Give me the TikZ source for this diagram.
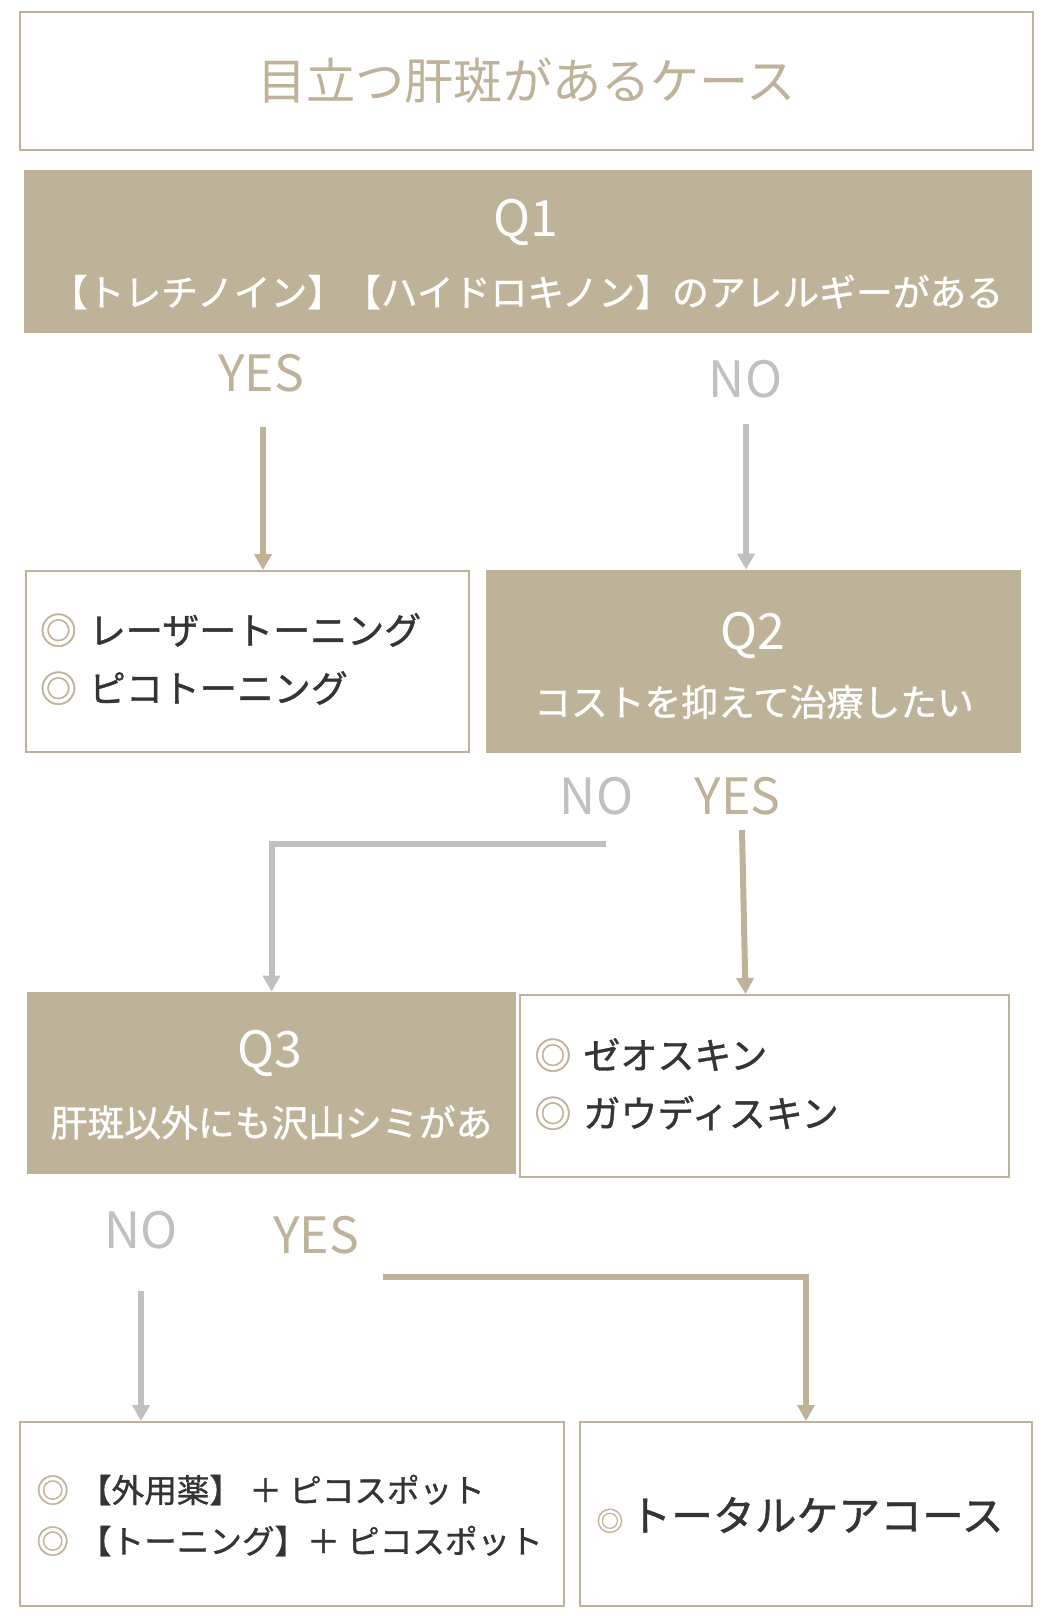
\documentclass[tikz,border=0pt]{standalone}
\usepackage{fontspec}
\setmainfont{Noto Sans CJK JP}
\newfontfamily\medjp{Noto Sans CJK JP}[FakeBold=1]
\usepackage{xcolor}
\usepackage{tikz}
\usetikzlibrary{arrows.meta}
\definecolor{sand}{RGB}{190,178,152}
\definecolor{ash}{RGB}{192,192,192}
\definecolor{ink}{RGB}{52,52,52}

\begin{document}
\begin{tikzpicture}[x=0.5pt, y=-0.5pt,
  qbox/.style={fill=sand, inner sep=0},
  abox/.style={draw=sand, line width=1pt, fill=white, inner sep=0},
  qlab/.style={text=white, font=\fontsize{25}{30}\selectfont},
  qtxt/.style={text=white, font=\medjp\fontsize{18.4}{22}\selectfont},
  item/.style={text=ink, anchor=west, inner sep=0, font=\medjp\fontsize{18.5}{22}\selectfont},
  yeslab/.style={text=sand, font=\fontsize{25}{30}\selectfont},
  nolab/.style={text=ash, font=\fontsize{25}{30}\selectfont},
  yesline/.style={draw=sand, line width=3pt, -{Triangle[width=8.5pt, length=8pt]}},
  noline/.style={draw=ash, line width=3pt, -{Triangle[width=8.5pt, length=8pt]}}]
\fill[white] (0,0) rectangle (1058,1616);
\useasboundingbox (0,0) rectangle (1058,1616);

\node[abox, minimum width=506.5pt, minimum height=69pt, text=sand, font=\fontsize{24.6}{30}\selectfont] (title) at (526.5,81) {目立つ肝斑があるケース};

\node[qbox, minimum width=504pt, minimum height=81.5pt] (q1) at (528,251.5) {};
\node[qlab] (q1a) at (526,222) {Q1};
\node[qtxt] (q1b) at (527,292) {【トレチノイン】【ハイドロキノン】のアレルギーがある};

\node[yeslab] (yes1) at (261,373) {YES};
\node[nolab] (no1) at (745.5,379.5) {NO};

\node[abox, minimum width=221.5pt, minimum height=90.5pt] (boxa) at (247.5,661.5) {};
\node[item] (a1) at (39.5,630) {\textcolor{sand}{◎}\hspace{6pt}レーザートーニング};
\node[item] (a2) at (39.5,688) {\textcolor{sand}{◎}\hspace{6pt}ピコトーニング};

\node[qbox, minimum width=267.5pt, minimum height=91.5pt] (q2) at (753.5,661.5) {};
\node[qlab] (q2a) at (752.5,635) {Q2};
\node[qtxt] (q2b) at (754,702) {コストを抑えて治療したい};

\coordinate (y1s) at (263,427);
\coordinate (n1s) at (746,424);
\draw[yesline] (y1s) -- (y1s |- boxa.north);
\draw[noline] (n1s) -- (n1s |- q2.north);

\node[nolab] (no2) at (596.5,796.5) {NO};
\node[yeslab] (yes2) at (737.5,796) {YES};

\node[qbox, minimum width=244.5pt, minimum height=91pt] (q3) at (271.5,1083) {};
\node[qlab] (q3a) at (270,1053) {Q3};
\node[qtxt] (q3b) at (271.5,1122.5) {肝斑以外にも沢山シミがあ};

\node[abox, minimum width=244.5pt, minimum height=91pt] (boxb) at (764.5,1086) {};
\node[item] (b1) at (534,1055) {\textcolor{sand}{◎}\hspace{6pt}ゼオスキン};
\node[item] (b2) at (534,1113) {\textcolor{sand}{◎}\hspace{6pt}ガウディスキン};

\coordinate (n2s) at (606,844);
\coordinate (y2s) at (742,830);
\draw[noline] (n2s) -| (q3.north);
\draw[yesline] (y2s) -- ([xshift=-9.5pt]boxb.north);

\node[nolab] (no3) at (141,1230.5) {NO};
\node[yeslab] (yes3) at (316,1235) {YES};

\node[abox, minimum width=272pt, minimum height=92pt] (boxc) at (292,1514) {};
\node[item, font=\medjp\fontsize{16.3}{20}\selectfont] (c1) at (36,1490) {\textcolor{sand}{◎}\hspace{5pt}【外用薬】 ＋ ピコスポット};
\node[item, font=\medjp\fontsize{16.3}{20}\selectfont] (c2) at (36,1541) {\textcolor{sand}{◎}\hspace{5pt}【トーニング】＋ ピコスポット};

\node[abox, minimum width=226pt, minimum height=92pt] (boxd) at (806,1514) {};
\node[item, font=\medjp\fontsize{20.9}{25}\selectfont] (d1) at (596,1515) {{\fontsize{13.5}{16}\selectfont\textcolor{sand}{◎}}\hspace{3pt}トータルケアコース};

\coordinate (n3s) at (141,1291);
\coordinate (y3s) at (383,1277);
\draw[noline] (n3s) -- (n3s |- boxc.north);
\draw[yesline] (y3s) -| (boxd.north);
\end{tikzpicture}
\end{document}
